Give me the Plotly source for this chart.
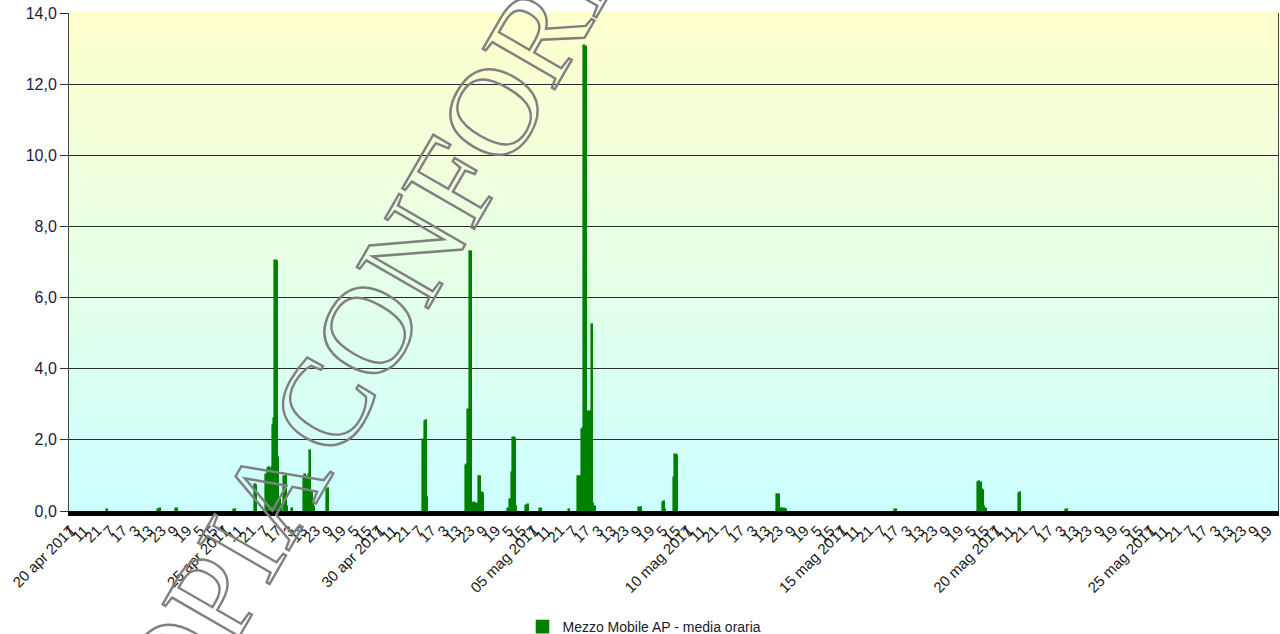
import pandas as pd
import plotly.graph_objects as go

# Hourly mean readings (hours with a reading above zero)
reading_times = [
    "2017-04-21 05:00", "2017-04-22 21:00", "2017-04-22 22:00", "2017-04-23 11:00",
    "2017-04-25 08:00",
    "2017-04-26 00:00", "2017-04-26 01:00",
    "2017-04-26 09:00", "2017-04-26 10:00", "2017-04-26 11:00", "2017-04-26 12:00",
    "2017-04-26 13:00", "2017-04-26 14:00", "2017-04-26 15:00", "2017-04-26 16:00",
    "2017-04-26 17:00", "2017-04-26 18:00", "2017-04-26 19:00", "2017-04-26 20:00",
    "2017-04-26 23:00", "2017-04-27 00:00", "2017-04-27 01:00", "2017-04-27 05:00",
    "2017-04-27 14:00", "2017-04-27 15:00", "2017-04-27 16:00", "2017-04-27 17:00",
    "2017-04-27 18:00", "2017-04-27 19:00", "2017-04-27 20:00", "2017-04-27 21:00",
    "2017-04-27 22:00",
    "2017-04-28 08:00", "2017-04-28 09:00",
    "2017-05-01 11:00", "2017-05-01 12:00", "2017-05-01 13:00", "2017-05-01 14:00",
    "2017-05-02 20:00", "2017-05-02 21:00", "2017-05-02 22:00", "2017-05-02 23:00",
    "2017-05-03 00:00", "2017-05-03 01:00", "2017-05-03 02:00", "2017-05-03 03:00",
    "2017-05-03 04:00", "2017-05-03 05:00", "2017-05-03 06:00", "2017-05-03 07:00",
    "2017-05-03 08:00", "2017-05-03 09:00",
    "2017-05-04 05:00", "2017-05-04 06:00", "2017-05-04 07:00", "2017-05-04 08:00",
    "2017-05-04 09:00", "2017-05-04 10:00", "2017-05-04 11:00",
    "2017-05-04 19:00", "2017-05-04 20:00", "2017-05-05 06:00",
    "2017-05-06 04:00",
    "2017-05-06 11:00", "2017-05-06 12:00", "2017-05-06 13:00", "2017-05-06 14:00",
    "2017-05-06 15:00", "2017-05-06 16:00", "2017-05-06 17:00", "2017-05-06 18:00",
    "2017-05-06 19:00", "2017-05-06 20:00", "2017-05-06 21:00", "2017-05-06 22:00",
    "2017-05-06 23:00", "2017-05-07 00:00",
    "2017-05-08 11:00", "2017-05-08 12:00",
    "2017-05-09 05:00", "2017-05-09 06:00", "2017-05-09 07:00",
    "2017-05-09 14:00", "2017-05-09 15:00", "2017-05-09 16:00",
    "2017-05-12 22:00", "2017-05-12 23:00",
    "2017-05-13 00:00", "2017-05-13 01:00", "2017-05-13 02:00", "2017-05-13 03:00",
    "2017-05-13 04:00", "2017-05-13 05:00",
    "2017-05-16 18:00",
    "2017-05-19 10:00", "2017-05-19 11:00", "2017-05-19 12:00", "2017-05-19 13:00",
    "2017-05-19 14:00", "2017-05-19 15:00", "2017-05-19 16:00",
    "2017-05-20 18:00", "2017-05-20 19:00",
    "2017-05-22 07:00",
]
reading_values = [
    0.04, 0.04, 0.05, 0.05,
    0.04,
    0.72, 0.70,
    1.00, 1.18, 1.20, 1.15,
    1.22, 2.40, 2.60, 7.03,
    7.00, 1.50, 0.30, 0.10,
    0.95, 0.98, 0.10, 0.06,
    0.95, 1.00, 0.92, 0.96,
    1.00, 1.70, 0.50, 0.30,
    0.12,
    0.60, 0.63,
    2.00, 2.50, 2.53, 0.37,
    1.27, 1.29, 2.84, 7.29,
    7.28, 0.20, 0.22, 0.20,
    0.18, 0.20, 0.96, 0.95,
    0.50, 0.48,
    0.05, 0.30, 0.30, 1.06,
    2.05, 2.03, 0.10,
    0.15, 0.17, 0.05,
    0.04,
    0.95, 0.96, 0.96, 2.28,
    2.30, 13.08, 13.05, 2.76,
    2.78, 2.78, 2.76, 5.22,
    0.20, 0.12,
    0.08, 0.08,
    0.23, 0.25, 0.03,
    0.93, 1.57, 1.55,
    0.45, 0.44,
    0.05, 0.05, 0.04, 0.05,
    0.04, 0.04,
    0.04,
    0.78, 0.81, 0.80, 0.58,
    0.57, 0.10, 0.05,
    0.48, 0.50,
    0.04,
]

series_name = "Mezzo Mobile AP - media oraria"
stamp_words = ["COPIA", "CONFORME"]

# Date labels every five days, hour labels every ten hours
date_ticks = ["2017-04-20", "2017-04-25", "2017-04-30", "2017-05-05",
              "2017-05-10", "2017-05-15", "2017-05-20", "2017-05-25"]
date_tick_text = ["20 apr 2017", "25 apr 2017", "30 apr 2017", "05 mag 2017",
                  "10 mag 2017", "15 mag 2017", "20 mag 2017", "25 mag 2017"]
hour_ticks = pd.date_range("2017-04-20 01:00", "2017-05-28 19:00", freq="10h")
hour_tick_text = [str(t.hour) for t in hour_ticks]

y_ticks = [0, 2, 4, 6, 8, 10, 12, 14]
x_range = ["2017-04-19 23:00", "2017-05-29 03:00"]

tickvals = list(pd.to_datetime(date_ticks)) + list(hour_ticks)
ticktext = date_tick_text + hour_tick_text

fig = go.Figure()
fig.add_trace(go.Bar(
    x=pd.to_datetime(reading_times),
    y=reading_values,
    name=series_name,
    width=3600000,
    marker=dict(color="#008000", line=dict(color="#008000", width=1.6)),
    showlegend=True,
))

# vertical yellow-to-cyan background
shapes = []
n_bands = 80
top_rgb = (255, 255, 204)
bot_rgb = (204, 255, 255)
for i in range(n_bands):
    f = (i + 0.5) / n_bands
    r = round(bot_rgb[0] + (top_rgb[0] - bot_rgb[0]) * f)
    g = round(bot_rgb[1] + (top_rgb[1] - bot_rgb[1]) * f)
    b = round(bot_rgb[2] + (top_rgb[2] - bot_rgb[2]) * f)
    shapes.append(dict(
        type="rect", xref="paper", yref="paper",
        x0=0, x1=1, y0=i / n_bands, y1=(i + 1) / n_bands + 0.002,
        fillcolor=f"rgb({r},{g},{b})", line=dict(width=0), layer="below",
    ))

# diagonal outlined stamp across the plot
stamp_font = dict(family="Liberation Serif, Times New Roman, serif",
                  size=126, color="#808080")
stamp_pos = [(0.110, -0.209), (0.3377, 0.748)]
annotations = [
    dict(text=word, xref="paper", yref="paper", x=px, y=py,
         xanchor="center", yanchor="middle", textangle=-60,
         showarrow=False, font=stamp_font)
    for word, (px, py) in zip(stamp_words, stamp_pos)
]

fig.update_layout(
    width=1280, height=634,
    margin=dict(l=69, r=2, t=13, b=123, autoexpand=False),
    paper_bgcolor="white",
    plot_bgcolor="#E6FFE6",
    separators=",.",
    bargap=0,
    shapes=shapes,
    font=dict(family="Liberation Sans, Arial, sans-serif", color="#1a1a1a"),
    showlegend=True,
    legend=dict(
        orientation="h", xref="paper", yref="paper",
        x=0.476, xanchor="center", y=-0.233, yanchor="middle",
        font=dict(size=14, color="#1a1a2a"),
        bgcolor="rgba(0,0,0,0)",
    ),
    annotations=annotations,
)

fig.update_xaxes(
    type="date", range=x_range, automargin=False,
    tickmode="array", tickvals=tickvals, ticktext=ticktext,
    tickangle=-45, ticks="", showgrid=False, zeroline=False,
    showline=True, linecolor="black", linewidth=5,
    tickfont=dict(size=15, color="#1a1a1a"),
)
fig.update_yaxes(
    range=[0, 14], tickvals=y_ticks, tickformat=".1f", automargin=False,
    ticks="outside", ticklen=8, tickcolor="#333333",
    showgrid=True, gridcolor="#2a2a2a", gridwidth=1,
    zeroline=False, showline=True, linecolor="#444444", linewidth=1, mirror=True,
    tickfont=dict(size=16, color="#1c1c3c"),
)

outline_js = """
var gd = document.getElementById('{plot_id}');
gd.querySelectorAll('.annotation-text').forEach(function (t) {
  t.style.fill = 'none';
  t.style.stroke = '#808080';
  t.style.strokeWidth = '2.4px';
});
"""

fig.write_html("out.html", post_script=outline_js)
